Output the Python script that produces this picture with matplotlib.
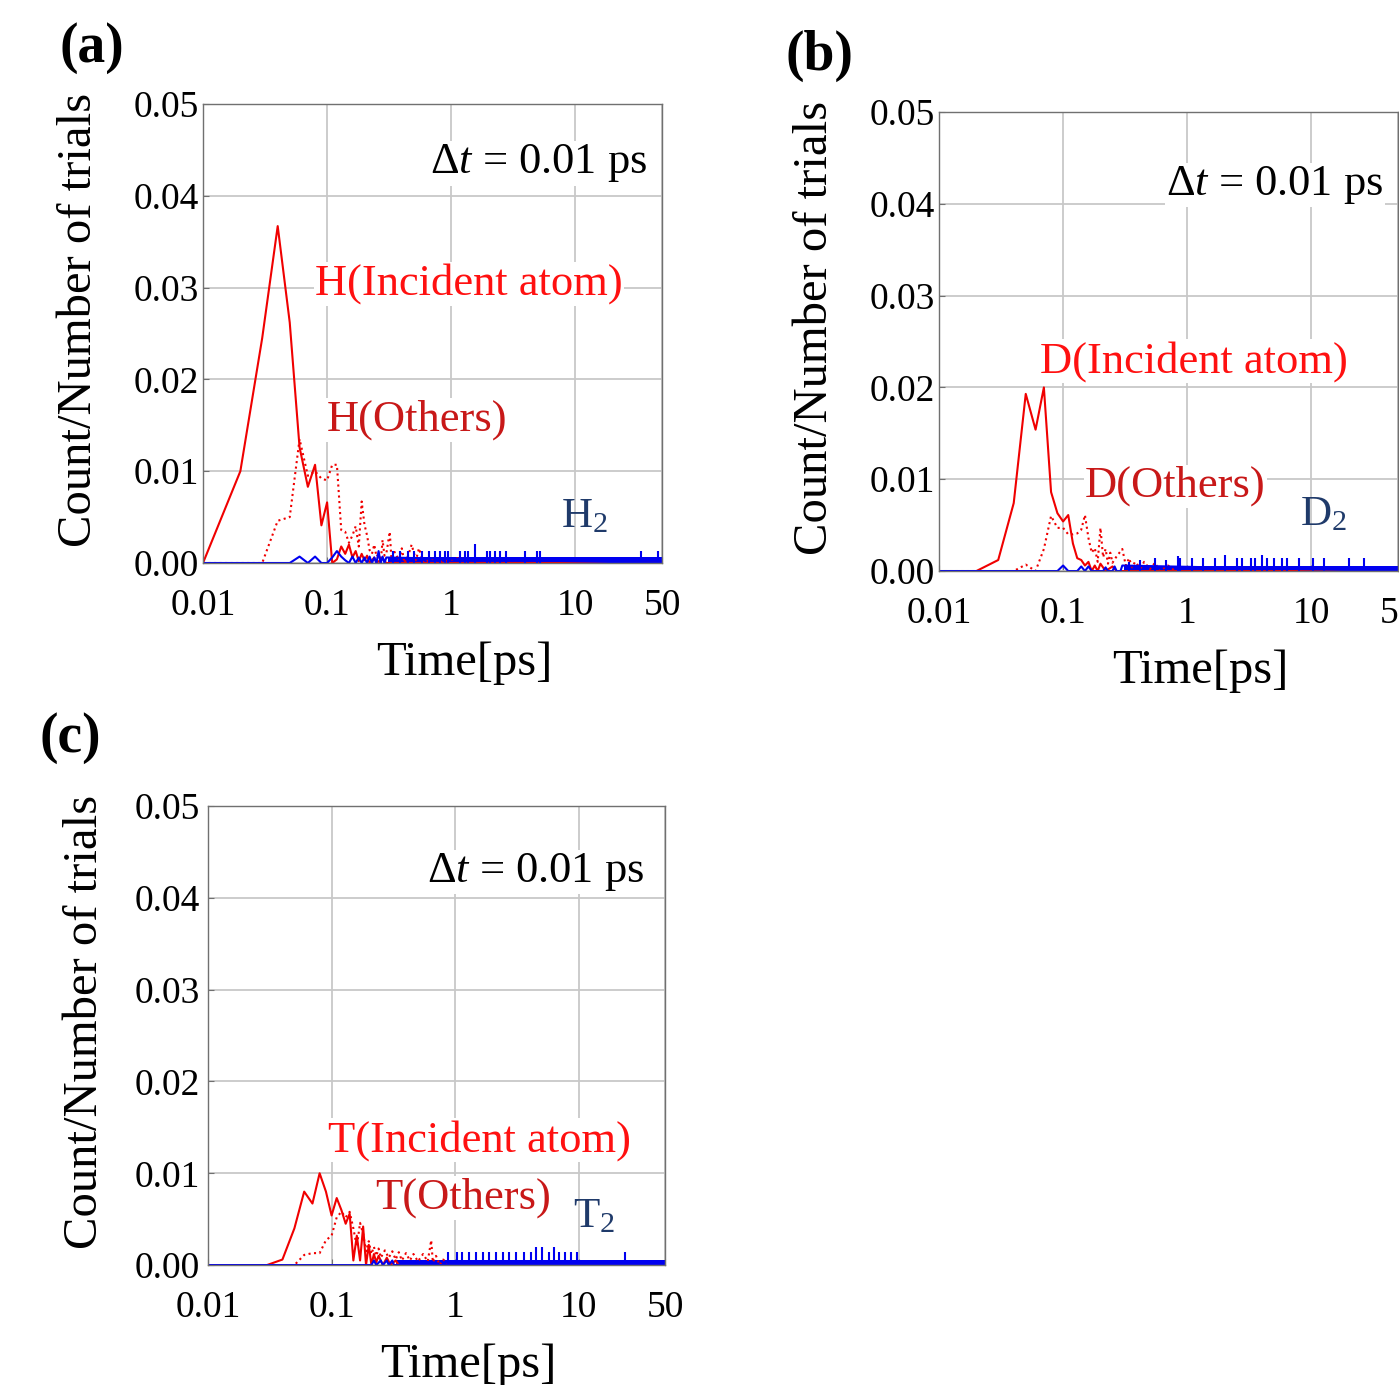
import matplotlib
matplotlib.use("Agg")
import matplotlib.pyplot as plt

plt.rcParams['font.family'] = ['Liberation Serif', 'DejaVu Serif']
plt.rcParams['mathtext.fontset'] = 'custom'
plt.rcParams['mathtext.rm'] = 'Liberation Serif'
plt.rcParams['mathtext.it'] = 'Liberation Serif:italic'

# ---------------- data ----------------
x_ticks = [0.01, 0.1, 1, 10, 50]
x_tick_labels = ['0.01', '0.1', '1', '10', '50']
y_ticks = [0.00, 0.01, 0.02, 0.03, 0.04, 0.05]
y_tick_labels = ['0.00', '0.01', '0.02', '0.03', '0.04', '0.05']

# (a) hydrogen
h_inc_t = [0.01, 0.02, 0.03, 0.04, 0.05, 0.06, 0.07, 0.08, 0.09, 0.10, 0.11, 0.12,
           0.13, 0.14, 0.15, 0.16, 0.17, 0.18, 0.19, 0.20, 0.21, 0.22, 0.24, 0.25,
           0.28, 0.30, 50]
h_inc_v = [0.0, 0.0100, 0.0245, 0.0367, 0.0262, 0.0126, 0.0083, 0.0107, 0.0041, 0.0066,
           0.0, 0.0004, 0.0018, 0.0010, 0.0020, 0.0006, 0.0013, 0.0002, 0.0010, 0.0003,
           0.0008, 0.0, 0.0006, 0.0, 0.0005, 0.0, 0.0]
h_oth_t = [0.01, 0.03, 0.04, 0.05, 0.06, 0.07, 0.08, 0.09, 0.10, 0.11, 0.12, 0.13,
           0.14, 0.15, 0.16, 0.17, 0.18, 0.19, 0.20, 0.21, 0.22, 0.23, 0.24, 0.25,
           0.26, 0.27, 0.28, 0.29, 0.30, 0.32, 0.33, 0.35, 0.38, 0.40, 0.42, 0.45,
           0.48, 0.52, 0.55, 0.6, 0.7, 0.75, 1.2, 1.3, 50]
h_oth_v = [0.0, 0.0, 0.0046, 0.0050, 0.0135, 0.0095, 0.0100, 0.0092, 0.0090, 0.0107,
           0.0107, 0.0036, 0.0034, 0.0022, 0.0030, 0.0040, 0.0018, 0.0067, 0.0042,
           0.0030, 0.0014, 0.0010, 0.0020, 0.0007, 0.0010, 0.0, 0.0025, 0.0008, 0.0010,
           0.0034, 0.0004, 0.0012, 0.0003, 0.0016, 0.0, 0.0008, 0.0020, 0.0003, 0.0016,
           0.0, 0.0005, 0.0, 0.0006, 0.0, 0.0]
h2_t = [0.01, 0.05, 0.06, 0.07, 0.08, 0.09, 0.10, 0.11, 0.12, 0.13, 0.14, 0.15, 0.16,
        0.17, 0.18, 0.19, 0.20, 0.21, 0.22, 0.23, 0.24, 0.25, 0.26, 0.27, 0.28, 0.29,
        0.30, 50]
h2_v = [0.0, 0.0, 0.0007, 0.0, 0.0007, 0.0, 0.0, 0.0006, 0.0013, 0.0007, 0.0003, 0.0,
        0.0007, 0.0, 0.0006, 0.0, 0.0006, 0.0, 0.0007, 0.0, 0.0006, 0.0, 0.0013, 0.0,
        0.0007, 0.0, 0.0006, 0.0]
h2_band = [0.31, 50, 0.0007]
h2_spike_t = [0.34, 0.39, 0.45, 0.50, 0.58, 0.66, 0.74, 0.81, 0.89, 0.95, 1.18, 1.30,
              1.37, 1.56, 1.94, 2.04, 2.25, 2.47, 2.79, 3.97, 4.9, 5.2, 33.8, 46.6]
h2_spike_v = [0.0013, 0.0013, 0.0013, 0.0013, 0.0013, 0.0013, 0.0013, 0.0013, 0.0013,
              0.0013, 0.0013, 0.0013, 0.0013, 0.0021, 0.0013, 0.0013, 0.0013, 0.0013,
              0.0013, 0.0013, 0.0013, 0.0013, 0.0013, 0.0013]

# (b) deuterium
d_inc_t = [0.01, 0.02, 0.03, 0.04, 0.05, 0.06, 0.07, 0.08, 0.09, 0.10, 0.11, 0.12,
           0.13, 0.14, 0.15, 0.16, 0.17, 0.18, 0.19, 0.20, 0.22, 0.25, 0.27, 50]
d_inc_v = [0.0, 0.0, 0.0012, 0.0074, 0.0193, 0.0154, 0.0200, 0.0086, 0.0063, 0.0054,
           0.0061, 0.0030, 0.0014, 0.0012, 0.0006, 0.0010, 0.0, 0.0006, 0.0, 0.0008,
           0.0, 0.0005, 0.0, 0.0]
d_oth_t = [0.01, 0.04, 0.05, 0.06, 0.07, 0.08, 0.09, 0.10, 0.11, 0.12, 0.13, 0.14,
           0.15, 0.16, 0.17, 0.18, 0.19, 0.20, 0.21, 0.22, 0.23, 0.24, 0.25, 0.27,
           0.30, 0.32, 0.34, 0.36, 0.38, 0.42, 0.45, 0.50, 0.55, 0.60, 0.70, 0.80, 50]
d_oth_v = [0.0, 0.0, 0.0007, 0.0, 0.0024, 0.0060, 0.0047, 0.0047, 0.0040, 0.0040,
           0.0041, 0.0045, 0.0061, 0.0036, 0.0020, 0.0025, 0.0010, 0.0047, 0.0015,
           0.0024, 0.0008, 0.0020, 0.0009, 0.0016, 0.0024, 0.0006, 0.0014, 0.0004,
           0.0010, 0.0003, 0.0010, 0.0002, 0.0009, 0.0, 0.0006, 0.0, 0.0]
d2_t = [0.01, 0.09, 0.10, 0.11, 0.13, 0.14, 0.15, 0.16, 0.17, 0.21, 0.22, 0.23, 0.25,
        0.26, 0.27, 0.29, 0.30, 50]
d2_v = [0.0, 0.0, 0.0006, 0.0, 0.0, 0.0005, 0.0, 0.0005, 0.0, 0.0, 0.0004, 0.0, 0.0,
        0.0005, 0.0, 0.0, 0.0006, 0.0]
d2_band = [0.31, 50, 0.0006]
d2_spike_t = [0.34, 0.42, 0.55, 0.68, 0.85, 0.88, 1.09, 1.35, 1.67, 2.03, 2.5, 2.76,
              3.24, 3.55, 4.0, 4.4, 4.98, 5.8, 6.35, 7.9, 10.4, 12.6, 20.0, 26.7]
d2_spike_v = [0.0010, 0.0012, 0.0014, 0.0012, 0.0016, 0.0014, 0.0014, 0.0014, 0.0014,
              0.0018, 0.0014, 0.0014, 0.0014, 0.0014, 0.0018, 0.0014, 0.0014, 0.0014,
              0.0014, 0.0014, 0.0014, 0.0014, 0.0014, 0.0014]

# (c) tritium
t_inc_t = [0.01, 0.03, 0.04, 0.05, 0.06, 0.07, 0.08, 0.09, 0.10, 0.11, 0.12, 0.13,
           0.14, 0.15, 0.16, 0.17, 0.18, 0.19, 0.20, 0.21, 0.22, 0.23, 0.24, 0.26,
           0.28, 0.30, 0.33, 0.35, 50]
t_inc_v = [0.0, 0.0, 0.0006, 0.0040, 0.0080, 0.0067, 0.0100, 0.0080, 0.0054, 0.0073,
           0.0060, 0.0045, 0.0056, 0.0005, 0.0032, 0.0005, 0.0042, 0.0, 0.0022, 0.0,
           0.0012, 0.0003, 0.0010, 0.0, 0.0008, 0.0, 0.0005, 0.0, 0.0]
t_oth_t = [0.01, 0.05, 0.06, 0.07, 0.08, 0.09, 0.10, 0.11, 0.12, 0.13, 0.14, 0.15,
           0.16, 0.17, 0.18, 0.19, 0.20, 0.21, 0.22, 0.23, 0.24, 0.25, 0.27, 0.29,
           0.31, 0.33, 0.35, 0.37, 0.40, 0.43, 0.46, 0.50, 0.55, 0.60, 0.64, 0.66,
           0.70, 0.75, 0.80, 0.90, 50]
t_oth_v = [0.0, 0.0, 0.0011, 0.0013, 0.0013, 0.0027, 0.0032, 0.0052, 0.0058, 0.0052,
           0.0058, 0.0040, 0.0020, 0.0046, 0.0034, 0.0015, 0.0026, 0.0012, 0.0020,
           0.0010, 0.0018, 0.0008, 0.0016, 0.0008, 0.0015, 0.0006, 0.0014, 0.0005,
           0.0013, 0.0005, 0.0012, 0.0004, 0.0012, 0.0004, 0.0027, 0.0003, 0.0010,
           0.0, 0.0006, 0.0, 0.0]
t2_t = [0.01, 0.21, 0.22, 0.23, 0.25, 0.26, 0.28, 0.29, 0.31, 0.32, 50]
t2_v = [0.0, 0.0, 0.0005, 0.0, 0.0005, 0.0, 0.0005, 0.0, 0.0005, 0.0, 0.0]
t2_band = [0.33, 50, 0.00055]
t2_spike_t = [0.87, 1.04, 1.14, 1.29, 1.47, 1.67, 1.89, 2.15, 2.42, 2.75, 3.1, 3.6,
              4.08, 4.5, 5.06, 5.74, 6.3, 6.9, 7.8, 8.6, 9.7, 23.7]
t2_spike_v = [0.0014, 0.0014, 0.0014, 0.0014, 0.0014, 0.0014, 0.0014, 0.0014, 0.0014,
              0.0014, 0.0014, 0.0014, 0.0014, 0.0020, 0.0020, 0.0014, 0.0020, 0.0014,
              0.0014, 0.0014, 0.0014, 0.0014]

RED = '#f00000'
BLUE = '#0000f0'
GRID = '#c8c8c8'


def setup(ax, ypad):
    ax.set_xscale('log')
    ax.set_xlim(0.01, 50)
    ax.set_ylim(0, 0.05)
    ax.set_xticks(x_ticks)
    ax.set_xticklabels(x_tick_labels)
    ax.minorticks_off()
    ax.set_yticks(y_ticks)
    ax.set_yticklabels(y_tick_labels)
    ax.grid(True, color=GRID, lw=1.3)
    ax.set_axisbelow(True)
    for s in ax.spines.values():
        s.set_color('#707070')
        s.set_linewidth(1.0)
    ax.tick_params(direction='in', length=4, color='#707070', labelsize=27)
    ax.tick_params(axis='x', pad=18)
    ax.tick_params(axis='y', pad=ypad)
    ax.set_xlabel('Time[ps]', fontsize=35)
    ax.xaxis.set_label_coords(0.569, -0.218)
    ax.xaxis.label.set_va('center')
    ax.set_ylabel('Count/Number of trials', fontsize=35)
    ax.yaxis.set_label_coords(-0.27, 0.53)
    ax.yaxis.label.set_va('center')


def draw(ax, inc, oth, mol, band, spikes, labels):
    ax.plot(inc[0], inc[1], color=RED, lw=1.5)
    ax.plot(oth[0], oth[1], color=RED, lw=1.5, ls=':')
    ax.plot(mol[0], mol[1], color=BLUE, lw=1.5)
    ax.fill_between(band[:2], 0, band[2], color=BLUE, lw=0)
    ax.vlines(spikes[0], 0, spikes[1], colors=BLUE, lw=1.5)
    box = dict(facecolor='white', edgecolor='none', pad=1)
    (x1, y1), (x2, y2), (x3, y3), (x4, y4), sym = labels
    ax.text(x1, y1, 'Δ$t$ = 0.01 ps', transform=ax.transAxes, fontsize=32,
            ha='right', va='center', bbox=box)
    ax.text(x2, y2, sym + '(Incident atom)', transform=ax.transAxes, fontsize=32,
            color='#ff1010', ha='left', va='center', bbox=box)
    ax.text(x3, y3, sym + '(Others)', transform=ax.transAxes, fontsize=32,
            color='#c81818', ha='left', va='center', bbox=box)
    ax.text(x4, y4, sym + '$_2$', transform=ax.transAxes, fontsize=31,
            color='#1f3a6a', ha='left', va='center')


fig = plt.figure(figsize=(13.99, 13.85), dpi=100)
ax_a = fig.add_axes([0.1451, 0.5935, 0.3281, 0.3314])
ax_b = fig.add_axes([0.6712, 0.5877, 0.3281, 0.3314])
ax_c = fig.add_axes([0.1487, 0.0866, 0.3267, 0.3314])

setup(ax_a, 3)
setup(ax_b, 3)
setup(ax_c, 6)

draw(ax_a, (h_inc_t, h_inc_v), (h_oth_t, h_oth_v), (h2_t, h2_v), h2_band,
     (h2_spike_t, h2_spike_v),
     ((0.969, 0.871), (0.244, 0.608), (0.270, 0.3115), (0.780, 0.100), 'H'))
draw(ax_b, (d_inc_t, d_inc_v), (d_oth_t, d_oth_v), (d2_t, d2_v), d2_band,
     (d2_spike_t, d2_spike_v),
     ((0.969, 0.841), (0.220, 0.4575), (0.318, 0.185), (0.786, 0.122), 'D'))
draw(ax_c, (t_inc_t, t_inc_v), (t_oth_t, t_oth_v), (t2_t, t2_v), t2_band,
     (t2_spike_t, t2_spike_v),
     ((0.954, 0.856), (0.263, 0.272), (0.365, 0.146), (0.799, 0.105), 'T'))

fig.text(0.0658, 0.9653, '(a)', fontsize=40, fontweight='bold', ha='center', va='center')
fig.text(0.586, 0.960, '(b)', fontsize=40, fontweight='bold', ha='center', va='center')
fig.text(0.050, 0.467, '(c)', fontsize=40, fontweight='bold', ha='center', va='center')

fig.savefig('out.png', dpi=100)
